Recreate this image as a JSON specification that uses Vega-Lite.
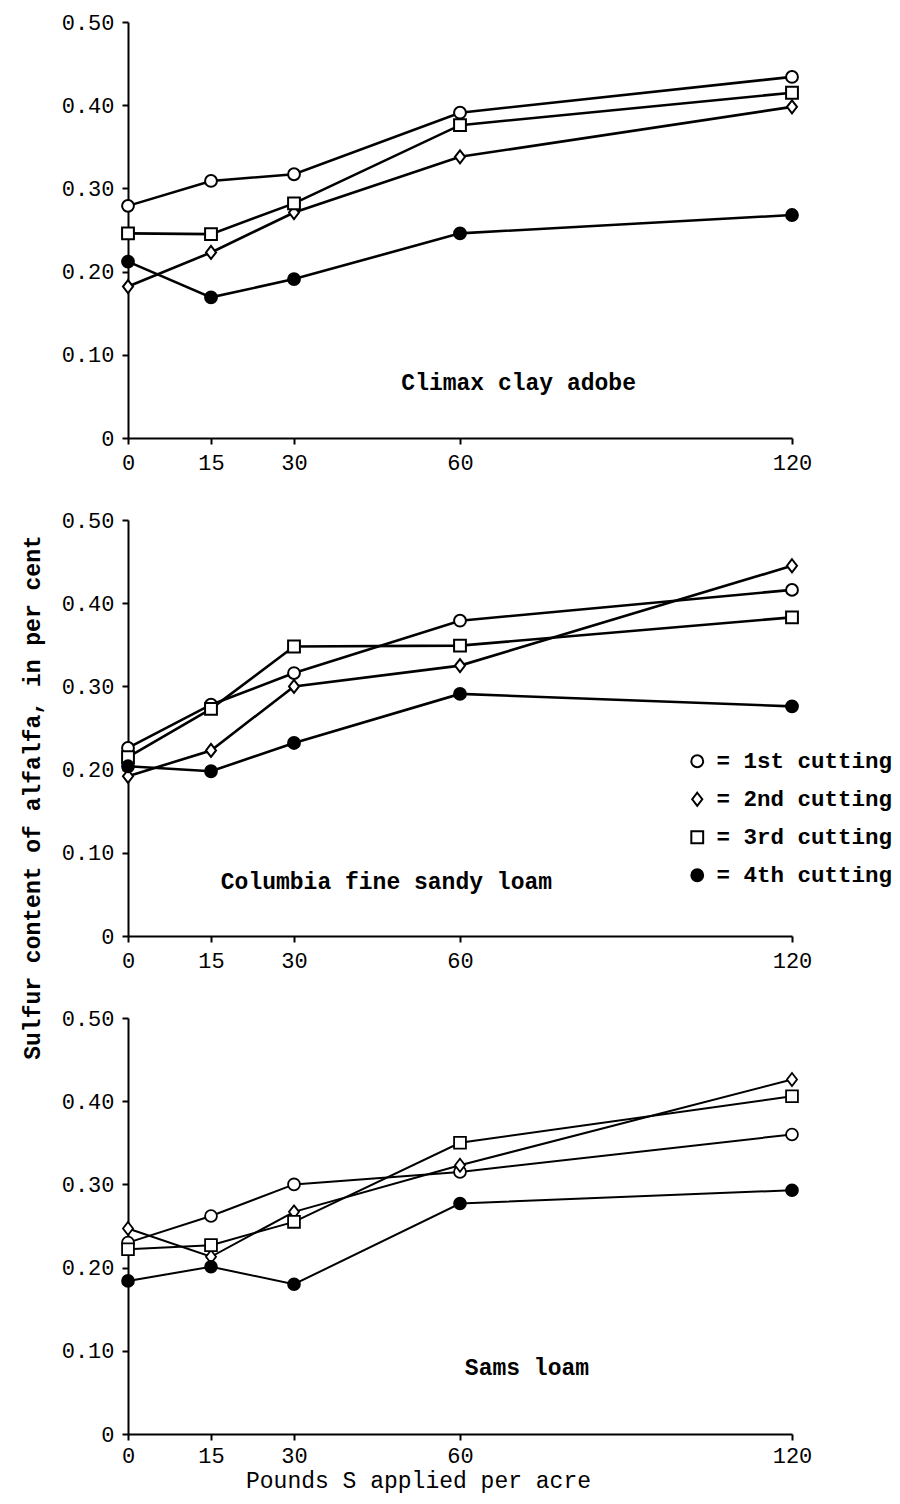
{
  "$schema": "https://vega.github.io/schema/vega-lite/v6.json",
  "padding": {"top": 11, "left": 21, "right": 4, "bottom": 8},
  "background": "white",
  "config": {
    "font": "Liberation Mono",
    "view": {"stroke": null},
    "axis": {
      "grid": false,
      "domainColor": "black",
      "domainWidth": 2,
      "tickColor": "black",
      "tickWidth": 2,
      "tickSize": 6,
      "labelFlush": false,
      "labelFont": "Liberation Mono",
      "labelFontSize": 22,
      "labelColor": "black",
      "titleFont": "Liberation Mono",
      "titleFontSize": 23,
      "titleColor": "black",
      "titleFontWeight": "bold"
    },
    "text": {"font": "Liberation Mono"}
  },
  "bounds": "flush",
  "spacing": 82,
  "resolve": {
    "scale": {"shape": "independent", "fill": "independent", "stroke": "independent"},
    "legend": {"shape": "independent", "fill": "independent", "stroke": "independent"}
  },
  "data": {
    "values": [
      {"soil": "Climax", "cutting": "1st cutting", "s": 0, "sulfur": 0.279},
      {"soil": "Climax", "cutting": "1st cutting", "s": 15, "sulfur": 0.309},
      {"soil": "Climax", "cutting": "1st cutting", "s": 30, "sulfur": 0.317},
      {"soil": "Climax", "cutting": "1st cutting", "s": 60, "sulfur": 0.391},
      {"soil": "Climax", "cutting": "1st cutting", "s": 120, "sulfur": 0.434},
      {"soil": "Climax", "cutting": "2nd cutting", "s": 0, "sulfur": 0.182},
      {"soil": "Climax", "cutting": "2nd cutting", "s": 15, "sulfur": 0.223},
      {"soil": "Climax", "cutting": "2nd cutting", "s": 30, "sulfur": 0.271},
      {"soil": "Climax", "cutting": "2nd cutting", "s": 60, "sulfur": 0.338},
      {"soil": "Climax", "cutting": "2nd cutting", "s": 120, "sulfur": 0.398},
      {"soil": "Climax", "cutting": "3rd cutting", "s": 0, "sulfur": 0.246},
      {"soil": "Climax", "cutting": "3rd cutting", "s": 15, "sulfur": 0.245},
      {"soil": "Climax", "cutting": "3rd cutting", "s": 30, "sulfur": 0.282},
      {"soil": "Climax", "cutting": "3rd cutting", "s": 60, "sulfur": 0.376},
      {"soil": "Climax", "cutting": "3rd cutting", "s": 120, "sulfur": 0.415},
      {"soil": "Climax", "cutting": "4th cutting", "s": 0, "sulfur": 0.212},
      {"soil": "Climax", "cutting": "4th cutting", "s": 15, "sulfur": 0.169},
      {"soil": "Climax", "cutting": "4th cutting", "s": 30, "sulfur": 0.191},
      {"soil": "Climax", "cutting": "4th cutting", "s": 60, "sulfur": 0.246},
      {"soil": "Climax", "cutting": "4th cutting", "s": 120, "sulfur": 0.268},
      {"soil": "Columbia", "cutting": "1st cutting", "s": 0, "sulfur": 0.226},
      {"soil": "Columbia", "cutting": "1st cutting", "s": 15, "sulfur": 0.278},
      {"soil": "Columbia", "cutting": "1st cutting", "s": 30, "sulfur": 0.316},
      {"soil": "Columbia", "cutting": "1st cutting", "s": 60, "sulfur": 0.379},
      {"soil": "Columbia", "cutting": "1st cutting", "s": 120, "sulfur": 0.416},
      {"soil": "Columbia", "cutting": "2nd cutting", "s": 0, "sulfur": 0.192},
      {"soil": "Columbia", "cutting": "2nd cutting", "s": 15, "sulfur": 0.223},
      {"soil": "Columbia", "cutting": "2nd cutting", "s": 30, "sulfur": 0.300},
      {"soil": "Columbia", "cutting": "2nd cutting", "s": 60, "sulfur": 0.325},
      {"soil": "Columbia", "cutting": "2nd cutting", "s": 120, "sulfur": 0.445},
      {"soil": "Columbia", "cutting": "3rd cutting", "s": 0, "sulfur": 0.215},
      {"soil": "Columbia", "cutting": "3rd cutting", "s": 15, "sulfur": 0.273},
      {"soil": "Columbia", "cutting": "3rd cutting", "s": 30, "sulfur": 0.348},
      {"soil": "Columbia", "cutting": "3rd cutting", "s": 60, "sulfur": 0.349},
      {"soil": "Columbia", "cutting": "3rd cutting", "s": 120, "sulfur": 0.383},
      {"soil": "Columbia", "cutting": "4th cutting", "s": 0, "sulfur": 0.204},
      {"soil": "Columbia", "cutting": "4th cutting", "s": 15, "sulfur": 0.198},
      {"soil": "Columbia", "cutting": "4th cutting", "s": 30, "sulfur": 0.232},
      {"soil": "Columbia", "cutting": "4th cutting", "s": 60, "sulfur": 0.291},
      {"soil": "Columbia", "cutting": "4th cutting", "s": 120, "sulfur": 0.276},
      {"soil": "Sams", "cutting": "1st cutting", "s": 0, "sulfur": 0.230},
      {"soil": "Sams", "cutting": "1st cutting", "s": 15, "sulfur": 0.262},
      {"soil": "Sams", "cutting": "1st cutting", "s": 30, "sulfur": 0.300},
      {"soil": "Sams", "cutting": "1st cutting", "s": 60, "sulfur": 0.315},
      {"soil": "Sams", "cutting": "1st cutting", "s": 120, "sulfur": 0.360},
      {"soil": "Sams", "cutting": "2nd cutting", "s": 0, "sulfur": 0.247},
      {"soil": "Sams", "cutting": "2nd cutting", "s": 15, "sulfur": 0.213},
      {"soil": "Sams", "cutting": "2nd cutting", "s": 30, "sulfur": 0.267},
      {"soil": "Sams", "cutting": "2nd cutting", "s": 60, "sulfur": 0.323},
      {"soil": "Sams", "cutting": "2nd cutting", "s": 120, "sulfur": 0.426},
      {"soil": "Sams", "cutting": "3rd cutting", "s": 0, "sulfur": 0.222},
      {"soil": "Sams", "cutting": "3rd cutting", "s": 15, "sulfur": 0.227},
      {"soil": "Sams", "cutting": "3rd cutting", "s": 30, "sulfur": 0.255},
      {"soil": "Sams", "cutting": "3rd cutting", "s": 60, "sulfur": 0.350},
      {"soil": "Sams", "cutting": "3rd cutting", "s": 120, "sulfur": 0.406},
      {"soil": "Sams", "cutting": "4th cutting", "s": 0, "sulfur": 0.184},
      {"soil": "Sams", "cutting": "4th cutting", "s": 15, "sulfur": 0.201},
      {"soil": "Sams", "cutting": "4th cutting", "s": 30, "sulfur": 0.180},
      {"soil": "Sams", "cutting": "4th cutting", "s": 60, "sulfur": 0.277},
      {"soil": "Sams", "cutting": "4th cutting", "s": 120, "sulfur": 0.293}
    ]
  },
  "vconcat": [
    {
      "width": 664,
      "height": 416,
      "transform": [{"filter": "datum.soil == 'Climax'"}],
      "layer": [
        {
          "mark": {"type": "line", "color": "black", "strokeWidth": 2.6},
          "encoding": {
            "x": {"field": "s", "type": "quantitative", "scale": {"domain": [0, 120], "nice": false}, "axis": {"values": [0, 15, 30, 60, 120], "title": null, "labelPadding": 8}},
            "y": {"field": "sulfur", "type": "quantitative", "scale": {"domain": [0, 0.5], "nice": false}, "axis": {"values": [0, 0.1, 0.2, 0.3, 0.4, 0.5], "title": null, "labelExpr": "datum.value == 0 ? '0' : format(datum.value, '.2f')", "labelPadding": 8}},
            "detail": {"field": "cutting"}
          }
        },
        {
          "mark": {"type": "point", "filled": true, "stroke": "black", "strokeWidth": 2, "size": 140, "opacity": 1},
          "encoding": {
            "x": {"field": "s", "type": "quantitative"},
            "y": {"field": "sulfur", "type": "quantitative"},
            "shape": {"field": "cutting", "type": "nominal", "scale": {"domain": ["1st cutting", "2nd cutting", "3rd cutting", "4th cutting"], "range": ["circle", "M0,-1.1L0.85,0L0,1.1L-0.85,0Z", "square", "circle"]}, "legend": null},
            "fill": {"field": "cutting", "type": "nominal", "scale": {"domain": ["1st cutting", "2nd cutting", "3rd cutting", "4th cutting"], "range": ["white", "white", "white", "black"]}, "legend": null}
          }
        },
        {
          "data": {"values": [{"label": "Climax clay adobe"}]},
          "mark": {"type": "text", "fontSize": 23, "fontWeight": "bold", "color": "black"},
          "encoding": {
            "x": {"datum": 70.6},
            "y": {"datum": 0.066},
            "text": {"field": "label"}
          }
        }
      ]
    },
    {
      "width": 664,
      "height": 416,
      "transform": [{"filter": "datum.soil == 'Columbia'"}],
      "layer": [
        {
          "mark": {"type": "line", "color": "black", "strokeWidth": 2.6},
          "encoding": {
            "x": {"field": "s", "type": "quantitative", "scale": {"domain": [0, 120], "nice": false}, "axis": {"values": [0, 15, 30, 60, 120], "title": null, "labelPadding": 8}},
            "y": {"field": "sulfur", "type": "quantitative", "scale": {"domain": [0, 0.5], "nice": false}, "axis": {"values": [0, 0.1, 0.2, 0.3, 0.4, 0.5], "title": "Sulfur content of alfalfa, in per cent", "titleX": -96, "titleY": 277, "titleAngle": -90, "titleAlign": "center", "titleBaseline": "middle", "labelExpr": "datum.value == 0 ? '0' : format(datum.value, '.2f')", "labelPadding": 8}},
            "detail": {"field": "cutting"}
          }
        },
        {
          "mark": {"type": "point", "filled": true, "strokeWidth": 2, "size": 140, "opacity": 1},
          "encoding": {
            "x": {"field": "s", "type": "quantitative"},
            "y": {"field": "sulfur", "type": "quantitative"},
            "shape": {"field": "cutting", "type": "nominal", "scale": {"domain": ["1st cutting", "2nd cutting", "3rd cutting", "4th cutting"], "range": ["circle", "M0,-1.1L0.85,0L0,1.1L-0.85,0Z", "square", "circle"]},
              "legend": {"orient": "none", "legendX": 558, "legendY": 230, "title": null, "padding": 0, "labelExpr": "'= ' + datum.label", "labelFont": "Liberation Mono", "labelFontSize": 22.5, "labelFontWeight": "bold", "labelColor": "black", "labelLimit": 400, "symbolStrokeWidth": 2, "symbolSize": 140, "rowPadding": 15, "labelOffset": 8}},
            "fill": {"field": "cutting", "type": "nominal", "scale": {"domain": ["1st cutting", "2nd cutting", "3rd cutting", "4th cutting"], "range": ["white", "white", "white", "black"]},
              "legend": {"orient": "none", "legendX": 558, "legendY": 230, "title": null, "padding": 0, "labelExpr": "'= ' + datum.label", "labelFont": "Liberation Mono", "labelFontSize": 22.5, "labelFontWeight": "bold", "labelColor": "black", "labelLimit": 400, "symbolStrokeWidth": 2, "symbolSize": 140, "rowPadding": 15, "labelOffset": 8}},
            "stroke": {"field": "cutting", "type": "nominal", "scale": {"domain": ["1st cutting", "2nd cutting", "3rd cutting", "4th cutting"], "range": ["black", "black", "black", "black"]},
              "legend": {"orient": "none", "legendX": 558, "legendY": 230, "title": null, "padding": 0, "labelExpr": "'= ' + datum.label", "labelFont": "Liberation Mono", "labelFontSize": 22.5, "labelFontWeight": "bold", "labelColor": "black", "labelLimit": 400, "symbolStrokeWidth": 2, "symbolSize": 140, "rowPadding": 15, "labelOffset": 8}}
          }
        },
        {
          "data": {"values": [{"label": "Columbia fine sandy loam"}]},
          "mark": {"type": "text", "fontSize": 23, "fontWeight": "bold", "color": "black"},
          "encoding": {
            "x": {"datum": 46.7},
            "y": {"datum": 0.065},
            "text": {"field": "label"}
          }
        }
      ]
    },
    {
      "width": 664,
      "height": 416,
      "transform": [{"filter": "datum.soil == 'Sams'"}],
      "layer": [
        {
          "mark": {"type": "line", "color": "black", "strokeWidth": 2},
          "encoding": {
            "x": {"field": "s", "type": "quantitative", "scale": {"domain": [0, 120], "nice": false}, "axis": {"values": [0, 15, 30, 60, 120], "title": "Pounds S applied per acre", "titleX": 290, "titlePadding": 3, "titleFontWeight": "normal", "labelPadding": 5}},
            "y": {"field": "sulfur", "type": "quantitative", "scale": {"domain": [0, 0.5], "nice": false}, "axis": {"values": [0, 0.1, 0.2, 0.3, 0.4, 0.5], "title": null, "labelExpr": "datum.value == 0 ? '0' : format(datum.value, '.2f')", "labelPadding": 8}},
            "detail": {"field": "cutting"}
          }
        },
        {
          "mark": {"type": "point", "filled": true, "stroke": "black", "strokeWidth": 1.8, "size": 140, "opacity": 1},
          "encoding": {
            "x": {"field": "s", "type": "quantitative"},
            "y": {"field": "sulfur", "type": "quantitative"},
            "shape": {"field": "cutting", "type": "nominal", "scale": {"domain": ["1st cutting", "2nd cutting", "3rd cutting", "4th cutting"], "range": ["circle", "M0,-1.1L0.85,0L0,1.1L-0.85,0Z", "square", "circle"]}, "legend": null},
            "fill": {"field": "cutting", "type": "nominal", "scale": {"domain": ["1st cutting", "2nd cutting", "3rd cutting", "4th cutting"], "range": ["white", "white", "white", "black"]}, "legend": null}
          }
        },
        {
          "data": {"values": [{"label": "Sams loam"}]},
          "mark": {"type": "text", "fontSize": 23, "fontWeight": "bold", "color": "black"},
          "encoding": {
            "x": {"datum": 72.1},
            "y": {"datum": 0.079},
            "text": {"field": "label"}
          }
        }
      ]
    }
  ]
}
